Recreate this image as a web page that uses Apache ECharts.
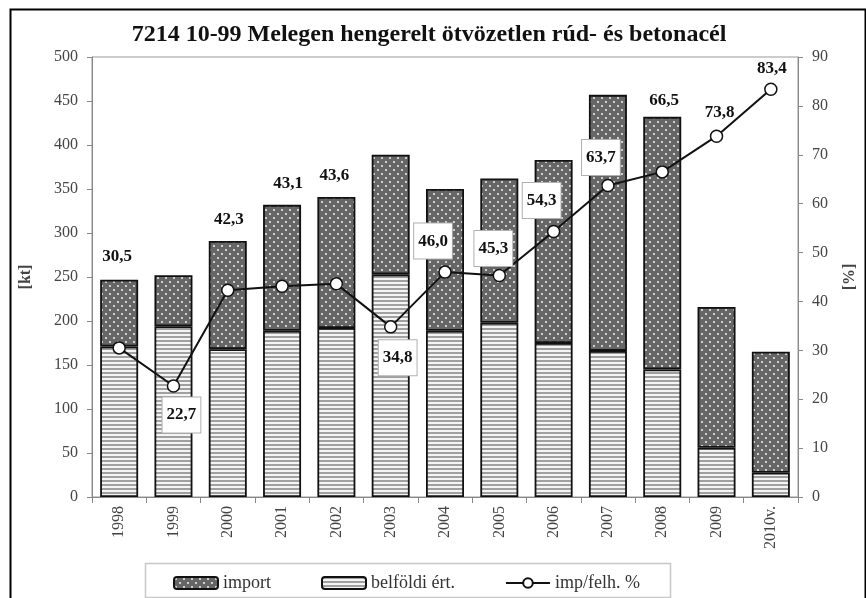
<!DOCTYPE html>
<html>
<head>
<meta charset="utf-8">
<script src="https://cdn.jsdelivr.net/npm/echarts@6/dist/echarts.min.js"></script>
<style>
html,body{margin:0;padding:0;background:#fff;}
#chart{width:866px;height:598px;}
</style>
</head>
<body>
<div id="chart"></div>
<script>
// ---- data ----
var categories = ['1998','1999','2000','2001','2002','2003','2004','2005','2006','2007','2008','2009','2010v.'];
var belfoldi = [171, 194, 168, 189, 192, 253, 189, 198, 175, 166, 145, 56, 27.5];
var importKt = [76, 58, 123, 143, 149, 136, 161, 164, 208, 291, 287, 160, 137.5];
var impPct = [30.5, 22.7, 42.3, 43.1, 43.6, 34.8, 46.0, 45.3, 54.3, 63.7, 66.5, 73.8, 83.4];
var leftTicks = {min: 0, max: 500, interval: 50};
var rightTicks = {min: 0, max: 90, interval: 10};

// label placement (style, not data)
var labelOffsets = [[-2,-91],[8,29],[1,-71],[6,-103],[-2,-108],[7,31],[-12,-31],[-6,-27],[-12,-31],[-7,-28],[2,-71],[3,-24],[1,-21]];
var labelBoxed = [false,true,false,false,false,true,true,true,true,true,false,false,false];

function makeDots(){
  var c = document.createElement('canvas'); c.width = 8; c.height = 8;
  var x = c.getContext('2d');
  x.fillStyle = '#666666'; x.fillRect(0,0,8,8);
  x.fillStyle = '#cfcfcf'; x.fillRect(1,1,2,2); x.fillRect(5,5,2,2);
  return c;
}
function makeStripes(){
  var c = document.createElement('canvas'); c.width = 4; c.height = 4;
  var x = c.getContext('2d');
  x.fillStyle = '#f4f4f4'; x.fillRect(0,0,4,4);
  x.fillStyle = '#a0a0a0'; x.fillRect(0,0,4,2);
  return c;
}
var dotPattern = {image: makeDots(), repeat: 'repeat'};
var stripePattern = {image: makeStripes(), repeat: 'repeat'};

var serif = '"Liberation Serif", "Times New Roman", serif';

var lineData = impPct.map(function(v, i){
  var lab = {offset: labelOffsets[i]};
  if (labelBoxed[i]) {
    lab.backgroundColor = '#fff';
    lab.borderColor = '#b0b0b0';
    lab.borderWidth = 1;
    lab.padding = [10, 4, 8, 4];
  }
  return {value: v, label: lab};
});

var chart = echarts.init(document.getElementById('chart'), null, {renderer: 'canvas'});
chart.setOption({
  backgroundColor: '#fff',
  animation: false,
  title: {
    text: '7214 10-99 Melegen hengerelt ötvözetlen rúd- és betonacél',
    left: 424, top: 18, textAlign: 'center',
    textStyle: {fontFamily: serif, fontWeight: 'bold', fontSize: 24, color: '#111'}
  },
  graphic: [
    {type: 'rect', left: 8, top: 7, shape: {x: 0, y: 0, width: 855, height: 640}, style: {fill: 'none', stroke: '#000', lineWidth: 2}, silent: true, z: 100},
    {type: 'rect', left: 143, top: 561, shape: {x: 0, y: 0, width: 525, height: 34}, style: {fill: 'none', stroke: '#c8c8c8', lineWidth: 1.5}, silent: true}
  ],
  legend: {
    left: 168, top: 569,
    itemWidth: 44, itemHeight: 12, itemGap: 50,
    data: ['import', 'belföldi ért.', 'imp/felh. %'],
    textStyle: {fontFamily: serif, fontSize: 18, color: '#333'}
  },
  grid: {left: 92, right: 68, top: 57, bottom: 101, show: true, borderColor: '#999', borderWidth: 1, backgroundColor: 'transparent'},
  xAxis: {
    type: 'category', data: categories,
    axisLine: {lineStyle: {color: '#888', width: 1}},
    axisTick: {show: true, length: 6, lineStyle: {color: '#888'}},
    axisLabel: {rotate: 90, margin: 9, fontFamily: serif, fontSize: 16, color: '#444'}
  },
  yAxis: [
    {
      type: 'value', min: leftTicks.min, max: leftTicks.max, interval: leftTicks.interval,
      name: '[kt]', nameLocation: 'middle', nameRotate: 90, nameGap: 58,
      nameTextStyle: {fontFamily: serif, fontWeight: 'bold', fontSize: 16, color: '#444'},
      axisLine: {show: true, lineStyle: {color: '#888'}},
      axisTick: {show: true, length: 5, lineStyle: {color: '#888'}},
      splitLine: {show: false},
      axisLabel: {margin: 14, fontFamily: serif, fontSize: 16, color: '#444'}
    },
    {
      type: 'value', min: rightTicks.min, max: rightTicks.max, interval: rightTicks.interval,
      name: '[%]', nameLocation: 'middle', nameRotate: 90, nameGap: 44,
      nameTextStyle: {fontFamily: serif, fontWeight: 'bold', fontSize: 16, color: '#444'},
      axisLine: {show: true, lineStyle: {color: '#888'}},
      axisTick: {show: true, length: 5, lineStyle: {color: '#888'}},
      splitLine: {show: false},
      axisLabel: {margin: 14, fontFamily: serif, fontSize: 16, color: '#444'}
    }
  ],
  series: [
    {
      name: 'belföldi ért.', type: 'bar', stack: 'kt', data: belfoldi, barWidth: 38,
      itemStyle: {color: stripePattern, borderColor: '#111', borderWidth: 1.8}
    },
    {
      name: 'import', type: 'bar', stack: 'kt', data: importKt, barWidth: 38,
      itemStyle: {color: dotPattern, borderColor: '#111', borderWidth: 1.8}
    },
    {
      name: 'imp/felh. %', type: 'line', yAxisIndex: 1, data: lineData, z: 5,
      symbol: 'circle', symbolSize: 12,
      lineStyle: {color: '#111', width: 2},
      itemStyle: {color: '#fff', borderColor: '#111', borderWidth: 1.5},
      label: {
        show: true, position: 'inside',
        fontFamily: serif, fontWeight: 'bold', fontSize: 17, color: '#111',
        formatter: function(p){ return p.value.toFixed(1).replace('.', ','); }
      }
    }
  ]
});
</script>
</body>
</html>
